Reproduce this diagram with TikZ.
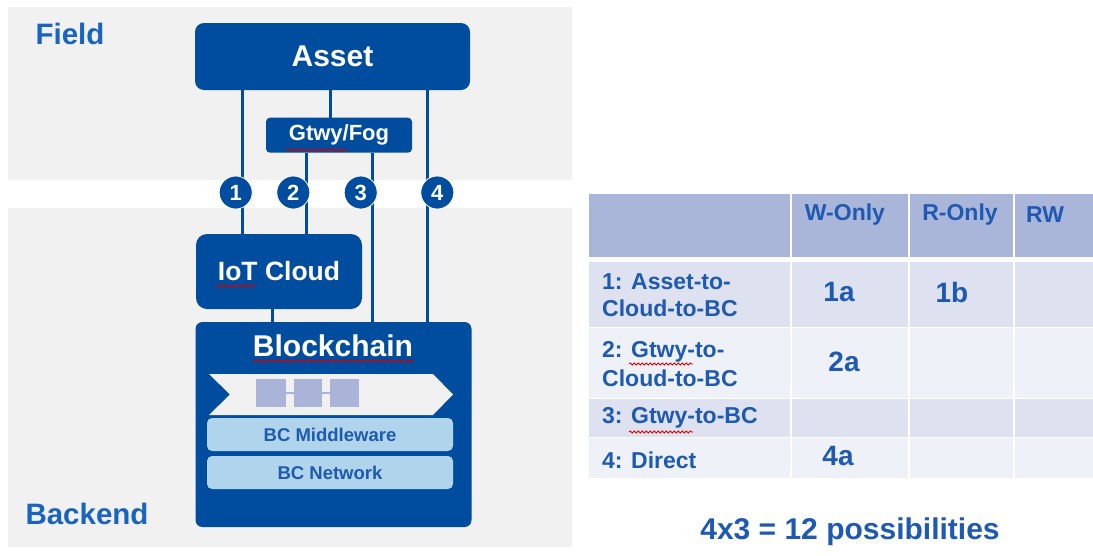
\documentclass[tikz,border=0pt]{standalone}
\usepackage{fontspec}
\setmainfont{Liberation Sans}
\usetikzlibrary{decorations.pathmorphing}
\definecolor{dblue}{RGB}{0,76,158}
\definecolor{lblue}{RGB}{24,100,192}
\definecolor{tblue}{RGB}{30,90,178}
\definecolor{bggray}{RGB}{241,241,241}
\definecolor{hdr}{RGB}{169,181,217}
\definecolor{rowA}{RGB}{221,225,240}
\definecolor{rowB}{RGB}{239,241,248}
\definecolor{lav}{RGB}{170,180,216}
\definecolor{midbl}{RGB}{176,212,236}
\definecolor{chev}{RGB}{240,240,240}
\newcommand\fsz[2]{\fontsize{#1}{#2}\selectfont\bfseries}
\begin{document}
\begin{tikzpicture}[x=1pt,y=-1pt,
  dbox/.style={fill=dblue, inner sep=0pt, text=white},
  lbox/.style={fill=midbl, rounded corners=5pt, inner sep=0pt, text=tblue,
    minimum width=246pt, minimum height=33pt, font=\fsz{18.5}{21}},
  conn/.style={draw=dblue, line width=3pt},
  num/.style={circle, fill=dblue, draw=white, line width=0.8pt, minimum size=33pt,
    inner sep=0pt, text=white, font=\fsz{22}{24}},
  squig/.style={draw=red!85!black, line width=0.8pt,
    decorate, decoration={snake, amplitude=1.1pt, segment length=4pt}},
  ttext/.style={text=tblue, inner sep=0pt, font=\fsz{23}{26}, align=left},
  big/.style={text=tblue, inner sep=0pt, font=\fsz{28}{30}}
]
\useasboundingbox (0,0) rectangle (1093,555);
\fill[white] (0,0) rectangle (1093,555);
% bands
\fill[bggray] (8,7) rectangle (572,180);
\fill[bggray] (8,208) rectangle (572,547);
\node[text=lblue, inner sep=0pt, font=\fsz{29.5}{32}] (field) at (70,34) {Field};
\node[text=lblue, inner sep=0pt, font=\fsz{29.5}{32}] (backend) at (87,514) {Backend};

% coordinates for connector x positions
\coordinate (x1) at (242.5,0);
\coordinate (x2) at (306.5,0);
\coordinate (xg) at (330,0);
\coordinate (x3) at (372.5,0);
\coordinate (x4) at (427.5,0);
\coordinate (xc) at (272,0);

% boxes
\node[dbox, rounded corners=9pt, minimum width=275pt, minimum height=67pt, font=\fsz{30}{32}]
  (asset) at (332.5,56.5) {Asset};
\node[dbox, rounded corners=4pt, minimum width=146pt, minimum height=35pt, font=\fsz{22}{24}]
  (gtwy) at (339,135.2) {Gtwy/Fog};
\node[dbox, rounded corners=11pt, minimum width=166pt, minimum height=75pt, font=\fsz{26.5}{28}]
  (cloud) at (279,271.5) {IoT Cloud};
\node[dbox, rounded corners=7pt, minimum width=276pt, minimum height=205pt]
  (bc) at (333.5,424.5) {};
\node[text=white, inner sep=0pt, font=\fsz{30}{32}] (bclabel) at (333,346) {Blockchain};

% chevron and blocks
\fill[chev] (209,374) -- (433,374) -- (453,394.5) -- (433,415) -- (209,415) -- (230,394.5) -- cycle;
\node[fill=lav, minimum width=30pt, minimum height=28pt, inner sep=0pt] (b1) at (271,393) {};
\node[fill=lav, minimum width=28pt, minimum height=28pt, inner sep=0pt] (b2) at (308,393) {};
\node[fill=lav, minimum width=29pt, minimum height=28pt, inner sep=0pt] (b3) at (344.5,393) {};
\draw[lav, line width=1.5pt] (b1.east) -- (b2.west) (b2.east) -- (b3.west);

\node[lbox] (mw) at (330,434.5) {BC Middleware};
\node[lbox] (net) at (330,472.5) {BC Network};

% connectors
\draw[conn] (asset.south -| x1) -- (cloud.north -| x1);
\draw[conn] (asset.south -| xg) -- (gtwy.north -| xg);
\draw[conn] (gtwy.south -| x2) -- (cloud.north -| x2);
\draw[conn] (gtwy.south -| x3) -- (bc.north -| x3);
\draw[conn] (asset.south -| x4) -- (bc.north -| x4);
\draw[conn] (cloud.south -| xc) -- (bc.north -| xc);

% numbered circles
\node[num] (n1) at (235.7,192.5) {1};
\node[num] (n2) at (293.3,192.5) {2};
\node[num] (n3) at (360.7,192.5) {3};
\node[num] (n4) at (437.3,192.5) {4};

% spell-check squiggles
\draw[squig] (286,150) -- (348,150);
\draw[squig] (216,286) -- (255,286);
\draw[squig] (253,361) -- (414,361);

% table
\foreach \ya/\yb/\col in {194/257/hdr,262/326.5/rowA,327.5/397.5/rowB,398.5/436.5/rowA,437.5/478/rowB}{
  \foreach \xa/\xb in {589/790,792/908,910/1013,1015/1093}{
    \fill[\col] (\xa,\ya) rectangle (\xb,\yb);
  }
}
\node[ttext] (hW) at (845,215) {W-Only};
\node[ttext] (hR) at (960,215) {R-Only};
\node[ttext, anchor=west] (hRW) at (1026,215) {RW};

\node[ttext, anchor=west] (r1a) at (602,282) {1: Asset-to-};
\node[ttext, anchor=west] (r1b) at (602,308) {Cloud-to-BC};
\node[ttext, anchor=west] (r2a) at (602,352) {2: Gtwy-to-};
\node[ttext, anchor=west] (r2b) at (602,378) {Cloud-to-BC};
\node[ttext, anchor=west] (r3) at (602,418) {3: Gtwy-to-BC};
\node[ttext, anchor=west] (r4) at (602,460) {4: Direct};
\draw[squig] (629,364) -- (693,364);
\draw[squig] (629,432) -- (693,432);

\node[big] (c1a) at (839,292) {1a};
\node[big] (c1b) at (952,292) {1b};
\node[big] (c2a) at (844,362) {2a};
\node[big] (c4a) at (838,456) {4a};

\node[text=tblue, inner sep=0pt, font=\fsz{30}{32}] (poss) at (850,532) {4x3 = 12 possibilities};
\end{tikzpicture}
\end{document}
